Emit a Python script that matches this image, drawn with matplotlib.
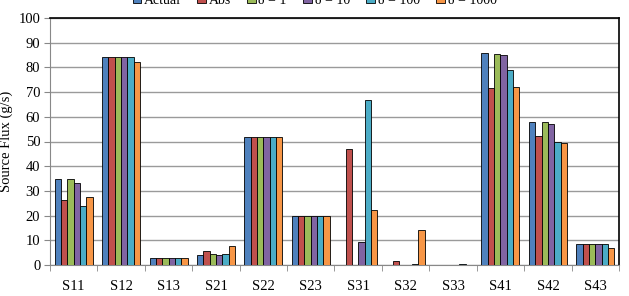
import numpy as np
import matplotlib.pyplot as plt

plt.rcParams['font.family'] = ['Liberation Serif', 'DejaVu Serif']

sources = ['S11', 'S12', 'S13', 'S21', 'S22', 'S23', 'S31', 'S32', 'S33', 'S41', 'S42', 'S43']
actual = [35.0, 84.3, 3.0, 4.2, 51.7, 20.0, 0.0, 0.0, 0.0, 85.8, 58.0, 8.5]
absval = [26.5, 84.3, 3.0, 5.8, 51.7, 20.0, 47.0, 1.8, 0.0, 71.8, 52.3, 8.3]
d1 = [34.7, 84.3, 3.0, 4.3, 51.7, 20.0, 0.0, 0.0, 0.0, 85.4, 58.0, 8.5]
d10 = [33.0, 84.3, 3.0, 4.1, 51.7, 20.0, 9.5, 0.0, 0.0, 85.2, 57.0, 8.5]
d100 = [23.7, 84.3, 3.0, 4.3, 51.7, 20.0, 66.7, 0.5, 0.4, 78.8, 50.0, 8.4]
d1000 = [27.7, 82.3, 3.0, 7.6, 51.9, 20.0, 22.3, 14.0, 0.0, 71.9, 49.3, 7.0]

series = [actual, absval, d1, d10, d100, d1000]
labels = ['Actual', 'Abs', 'δ = 1', 'δ = 10', 'δ = 100', 'δ = 1000']
colors = ['#4F81BD', '#C0504D', '#9BBB59', '#8064A2', '#4BACC6', '#F79646']

fig = plt.figure(figsize=(6.29, 2.96), dpi=100)
ax = fig.add_axes([50 / 629, 31 / 296, 569 / 629, 247 / 296])

x = np.arange(len(sources))
w = 0.8 / 6
for i, (vals, lab, c) in enumerate(zip(series, labels, colors)):
    ax.bar(x - 0.4 + w * (i + 0.5), vals, w, color=c, edgecolor='black',
           linewidth=0.6, label=lab, zorder=3)

ax.set_xlim(-0.5, len(sources) - 0.5)
ax.set_ylim(0, 100)
ax.set_yticks(np.arange(0, 101, 10))
ax.grid(axis='y', color='#9a9a9a', linewidth=1.0, zorder=0)
ax.set_xticks(x)
ax.set_xticklabels(sources)
ax.set_xticks(np.arange(-0.5, len(sources), 1), minor=True)
ax.tick_params(axis='x', which='major', length=0, pad=11, labelsize=10.5)
ax.tick_params(axis='x', which='minor', length=4, color='#888888', direction='out')
ax.tick_params(axis='y', length=4, color='#888888', labelsize=10.5, pad=3)
ax.set_ylabel('Source Flux (g/s)', fontsize=10.5, labelpad=4)
for s in ['left', 'bottom']:
    ax.spines[s].set_color('#888888')
for s in ['top', 'right']:
    ax.spines[s].set_color('black')
    ax.spines[s].set_linewidth(1.2)

fig.legend(loc='center', bbox_to_anchor=(0.5, 1.0), ncol=6, frameon=False,
           fontsize=10, handlelength=0.6, handleheight=0.6, handletextpad=0.2,
           columnspacing=1.2)

fig.savefig('out.png', dpi=100)
